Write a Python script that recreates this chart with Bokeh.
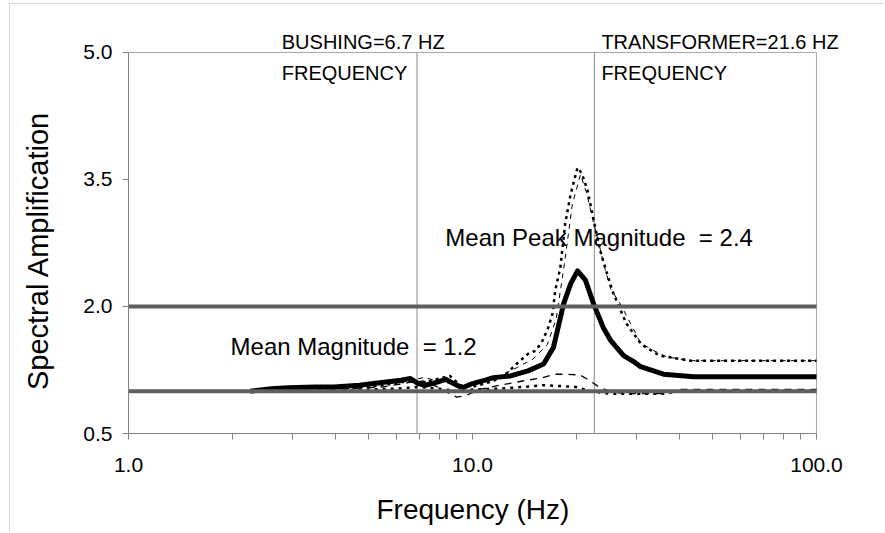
from bokeh.plotting import figure
from bokeh.models import Label, FixedTicker, NumeralTickFormatter, Range1d
from bokeh.embed import file_html
from bokeh.resources import INLINE

# ---- data ----
mean_f = [2.26, 2.6, 2.9, 3.5, 3.95, 4.7, 5.15, 6.2, 6.6, 6.95, 7.3, 7.95, 8.35, 8.9, 9.35, 10.0,
          10.9, 11.5, 12.9, 14.5, 16.1, 17.2, 18.4, 19.3, 20.2, 21.3, 22.5, 24.0, 25.2, 27.5,
          29.4, 30.8, 33.6, 35.9, 43.9, 100.0]
mean_v = [1.00, 1.03, 1.04, 1.05, 1.05, 1.07, 1.09, 1.13, 1.15, 1.09, 1.07, 1.11, 1.14, 1.08, 1.04, 1.09,
          1.13, 1.16, 1.18, 1.24, 1.32, 1.52, 2.03, 2.27, 2.42, 2.31, 2.03, 1.75, 1.60, 1.42,
          1.35, 1.29, 1.24, 1.20, 1.17, 1.17]

s1_f = [1.6, 2.3, 3.5, 4.5, 5.5, 6.5, 7.2, 8.0, 8.6, 9.2, 10.0, 11.5, 12.5, 13.5, 14.5, 15.3, 16.0,
        16.6, 17.1, 17.4, 18.0, 18.3, 18.6, 19.3, 20.2, 20.8, 21.6, 22.5, 23.5, 24.6, 25.7, 28.0,
        31.0, 35.0, 43.0, 100.0]
s1_v = [1.0, 1.0, 1.02, 1.04, 1.07, 1.12, 1.10, 1.15, 1.18, 1.07, 1.05, 1.12, 1.20, 1.33, 1.44, 1.48, 1.60,
        1.75, 1.92, 2.19, 2.46, 2.72, 2.98, 3.33, 3.64, 3.57, 3.37, 3.02, 2.66, 2.39, 2.15, 1.80,
        1.55, 1.42, 1.36, 1.36]

s2_f = [1.6, 2.3, 4.0, 5.5, 6.5, 7.2, 8.0, 8.8, 9.3, 10.0, 12.0, 13.5, 15.0, 16.5, 17.5, 18.5, 19.5,
        20.6, 21.5, 22.3, 23.2, 24.0, 25.2, 26.9, 28.8, 30.8, 33.6, 36.9, 38.9, 42.2, 100.0]
s2_v = [1.0, 1.0, 1.03, 1.08, 1.12, 1.16, 1.12, 1.08, 1.06, 1.10, 1.18, 1.28, 1.38, 1.55, 1.85, 2.50, 3.20,
        3.56, 3.33, 3.05, 2.78, 2.52, 2.21, 2.03, 1.80, 1.57, 1.48, 1.40, 1.39, 1.36, 1.36]

s3_f = [1.6, 2.3, 4.0, 5.5, 6.5, 7.2, 7.9, 8.5, 9.0, 9.6, 10.5, 12.0, 14.0, 16.0, 17.3, 18.8, 20.6,
        22.0, 23.5, 25.5, 28.0, 35.0, 40.0, 100.0]
s3_v = [1.0, 1.0, 1.02, 1.05, 1.10, 1.12, 1.05, 0.98, 0.93, 0.95, 1.02, 1.07, 1.12, 1.16, 1.20, 1.20, 1.19,
        1.12, 1.04, 0.99, 0.97, 0.97, 1.02, 1.02]

s4_f = [1.6, 2.3, 4.0, 5.0, 6.0, 7.0, 8.0, 9.0, 10.0, 12.0, 14.0, 16.0, 18.0, 20.0, 22.0, 25.0, 28.0,
        36.0, 40.0, 100.0]
s4_v = [1.0, 1.0, 1.0, 1.02, 1.03, 1.05, 1.03, 1.0, 1.02, 1.03, 1.05, 1.07, 1.06, 1.05, 1.0, 0.97, 0.97,
        0.97, 1.0, 1.0]

ref_levels = [1.0, 2.0]
mode_freqs = [6.9, 22.6]
x_ticks = [1, 10, 100]
x_minor = [2, 3, 4, 5, 6, 7, 8, 9, 20, 30, 40, 50, 60, 70, 80, 90]
y_ticks = [0.5, 2.0, 3.5, 5.0]
x_lo, x_hi = 1.0, 100.0
y_lo, y_hi = 0.5, 5.0

FONT = "Liberation Sans"
NBSP = "\u00a0"

# ranges extend a little beyond the axes so the top captions are not clipped
p = figure(width=875, height=529, x_axis_type="log", output_backend="svg",
           toolbar_location=None, x_range=Range1d(x_lo, 123.9), y_range=Range1d(y_lo, 5.295),
           min_border_left=118, min_border_right=37, min_border_top=23, min_border_bottom=100,
           styles={"margin-left": "9px", "margin-top": "3px",
                   "border-left": "1px solid #d8d8d8", "border-top": "1px solid #d8d8d8"})
p.xgrid.visible = False
p.ygrid.visible = False
p.outline_line_color = None
p.background_fill_color = "white"
p.border_fill_color = "white"

for ax in (p.xaxis[0], p.yaxis[0]):
    ax.axis_line_color = "#808080"
    ax.major_tick_line_color = "#808080"
    ax.minor_tick_line_color = "#808080"
    ax.major_tick_in = 0
    ax.major_tick_out = 6
    ax.minor_tick_in = 0
    ax.minor_tick_out = 6
    ax.major_label_text_font = FONT
    ax.major_label_text_font_size = "21px"
    ax.major_label_text_color = "black"
    ax.axis_label_text_font = FONT
    ax.axis_label_text_font_style = "normal"
    ax.axis_label_text_color = "black"
    ax.formatter = NumeralTickFormatter(format="0.0")

p.xaxis[0].bounds = (x_lo, x_hi)
p.yaxis[0].bounds = (y_lo, y_hi)
p.xaxis[0].ticker = FixedTicker(ticks=x_ticks, minor_ticks=x_minor)
p.yaxis[0].ticker = FixedTicker(ticks=y_ticks, minor_ticks=[])
p.xaxis[0].major_label_standoff = 18
p.yaxis[0].major_label_standoff = 10

# axis titles: trailing no-break spaces re-centre them on the drawn axes
p.xaxis[0].axis_label = "Frequency (Hz)" + NBSP * 4
p.xaxis[0].axis_label_text_font_size = "28px"
p.xaxis[0].axis_label_standoff = 19
p.yaxis[0].axis_label = "Spectral Amplification" + NBSP * 5
p.yaxis[0].axis_label_text_font_size = "29px"
p.yaxis[0].axis_label_standoff = 26

# light frame on top and right
p.segment(x0=[x_lo, x_hi], y0=[y_hi, y_lo], x1=[x_hi, x_hi], y1=[y_hi, y_hi],
          line_color="#a8a8a8", line_width=1)
# mode frequency markers
p.segment(x0=mode_freqs, y0=[y_lo] * len(mode_freqs), x1=mode_freqs, y1=[y_hi] * len(mode_freqs),
          line_color="#8a8a8a", line_width=1)

# curves
p.line(s2_f, s2_v, line_color="black", line_width=1, line_dash="5 5")
p.line(s3_f, s3_v, line_color="black", line_width=1.3, line_dash="7 6")
p.line(s4_f, s4_v, line_color="black", line_width=2.5, line_dash="3 5")
p.line(s1_f, s1_v, line_color="black", line_width=2.5, line_dash="3 4")
p.line(mean_f, mean_v, line_color="black", line_width=5, line_join="round")

# reference levels
p.segment(x0=[x_lo] * len(ref_levels), y0=ref_levels, x1=[x_hi] * len(ref_levels), y1=ref_levels,
          line_color="#5f5f5f", line_width=4)

def lab(x, y, t, size):
    p.add_layout(Label(x=x, y=y, text=t, text_font=FONT, text_font_size=size,
                       text_baseline="middle", text_align="left", text_color="black"))

lab(2.79, 5.118, "BUSHING=6.7 HZ", "20px")
lab(2.79, 4.76, "FREQUENCY", "20px")
lab(23.7, 5.118, "TRANSFORMER=21.6 HZ", "20px")
lab(23.7, 4.76, "FREQUENCY", "20px")
lab(8.34, 2.815, "Mean Peak Magnitude " + NBSP + "= 2.4", "24px")
lab(1.98, 1.527, "Mean Magnitude " + NBSP + "= 1.2", "24px")

open("out.html", "w").write(file_html(p, INLINE))
